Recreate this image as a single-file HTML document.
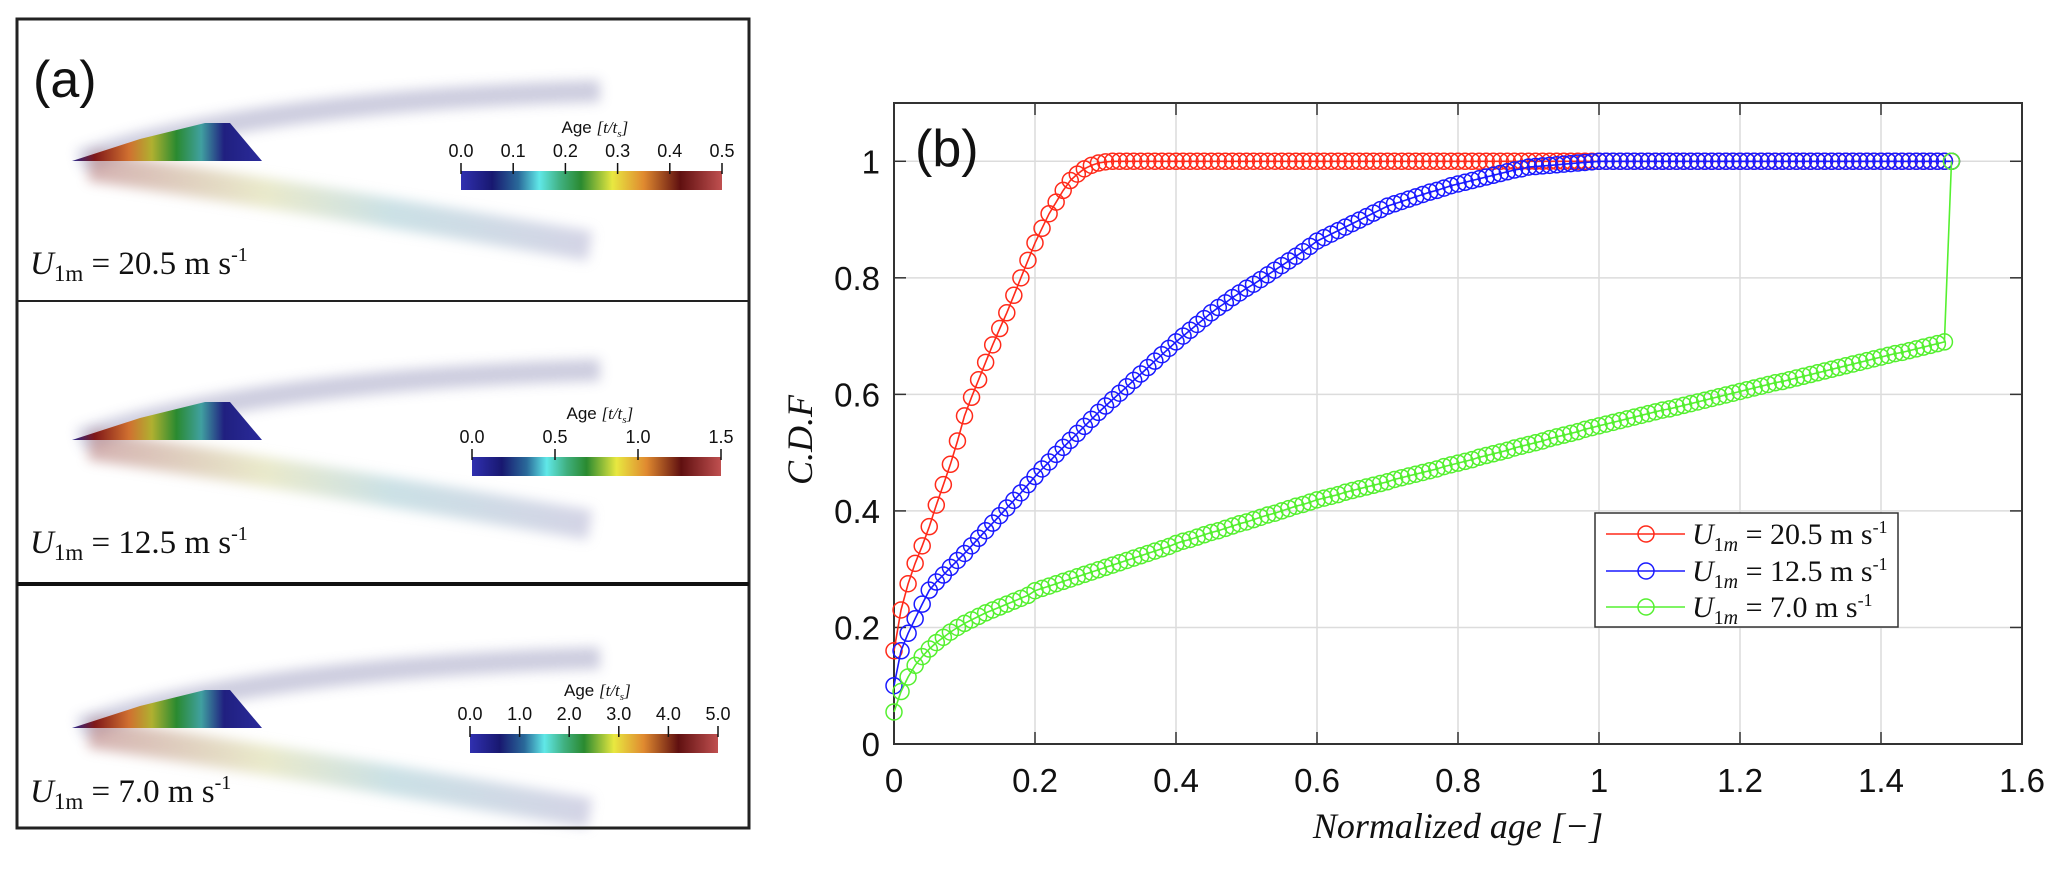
<!DOCTYPE html>
<html><head><meta charset="utf-8">
<style>
html,body{margin:0;padding:0;background:#fff;}
body{width:2067px;height:892px;position:relative;overflow:hidden;font-family:"Liberation Sans",sans-serif;}
svg{position:absolute;left:0;top:0;}
</style></head>
<body>
<svg id="main" width="2067" height="892" viewBox="0 0 2067 892" xmlns="http://www.w3.org/2000/svg">
<defs>
<linearGradient id="cmap" x1="0" x2="1" y1="0" y2="0">
<stop offset="0" stop-color="#3030b0"/><stop offset="0.12" stop-color="#181870"/>
<stop offset="0.22" stop-color="#2a6a9a"/><stop offset="0.3" stop-color="#60e8e8"/>
<stop offset="0.38" stop-color="#40b080"/><stop offset="0.46" stop-color="#2a8a30"/>
<stop offset="0.58" stop-color="#e8e840"/><stop offset="0.7" stop-color="#e08a30"/>
<stop offset="0.84" stop-color="#601010"/><stop offset="1" stop-color="#c05050"/>
</linearGradient>
<linearGradient id="tri" x1="0" x2="1" y1="0" y2="0">
<stop offset="0" stop-color="#2a2a90"/><stop offset="0.12" stop-color="#801818"/>
<stop offset="0.3" stop-color="#d07030"/><stop offset="0.42" stop-color="#b0b030"/>
<stop offset="0.55" stop-color="#2a8a30"/><stop offset="0.68" stop-color="#40a0a0"/>
<stop offset="0.8" stop-color="#202080"/><stop offset="1" stop-color="#2a2a9a"/>
</linearGradient>
<linearGradient id="armlow" x1="0" x2="1"><stop offset="0" stop-color="#b07070"/><stop offset="0.35" stop-color="#d8d8a0"/><stop offset="0.6" stop-color="#a0c8d0"/><stop offset="1" stop-color="#b0b0d0"/></linearGradient>
<filter id="blur" x="-20%" y="-50%" width="140%" height="200%"><feGaussianBlur stdDeviation="6"/></filter>
</defs>
<g id="panelA"></g>
<g id="chart"></g>
</svg>
<script>
// ---------- chart data ----------
const xStep = 0.01;
const xTicks = [0,0.2,0.4,0.6,0.8,1,1.2,1.4,1.6];
const xTickLabels = ["0","0.2","0.4","0.6","0.8","1","1.2","1.4","1.6"];
const yTicks = [0,0.2,0.4,0.6,0.8,1];
const yTickLabels = ["0","0.2","0.4","0.6","0.8","1"];
const seriesNames = ["20.5","12.5","7.0"];
const redValues = [0.16,0.23,0.275,0.31,0.34,0.373,0.41,0.445,0.48,0.52,0.563,0.595,0.625,0.655,0.685,0.713,0.74,0.77,0.80,0.83,0.86,0.885,0.91,0.93,0.95,0.967,0.978,0.987,0.993,0.997,0.999,
1,1,1,1,1,1,1,1,1,1,1,1,1,1,1,1,1,1,1,1,1,1,1,1,1,1,1,1,1,1,1,1,1,1,1,1,1,1,1,1,1,1,1,1,1,1,1,1,1,1,1,1,1,1,1,1,1,1,1,1,1,1,1,1,1,1,1,1,1,1,1,1,1,1,1,1,1,1,1,1,1,1,1,1,1,1,1,1,1,1,1,1,1,1,1,1,1,1,1,1,1,1,1,1,1,1,1,1,1,1,1,1,1,1,1,1,1,1,1,1];
const blueValues = [0.10,0.16,0.19,0.215,0.24,0.264,0.278,0.29,0.303,0.315,
0.327,0.340,0.353,0.366,0.379,0.392,0.405,0.418,0.431,0.445,0.459,
0.472,0.484,0.497,0.509,0.521,0.533,0.545,0.557,0.569,0.58,
0.591,0.602,0.613,0.624,0.635,0.646,0.657,0.668,0.679,0.69,
0.700,0.710,0.720,0.730,0.740,0.749,0.757,0.766,0.774,0.782,
0.789,0.797,0.805,0.813,0.821,0.829,0.837,0.845,0.854,0.863,
0.869,0.875,0.881,0.887,0.893,0.899,0.905,0.911,0.917,0.923,
0.927,0.931,0.935,0.939,0.943,0.947,0.950,0.954,0.958,0.961,
0.964,0.967,0.970,0.973,0.976,0.979,0.982,0.985,0.987,0.99,
0.991,0.992,0.993,0.994,0.995,0.996,0.997,0.998,0.999,1.0,
1,1,1,1,1,1,1,1,1,1,1,1,1,1,1,1,1,1,1,1,1,1,1,1,1,1,1,1,1,1,1,1,1,1,1,1,1,1,1,1,1,1,1,1,1,1,1,1,1,1];
const greenValues = [0.055,0.09,0.115,0.135,0.15,0.163,0.174,0.183,0.192,0.2,0.207,
0.213,0.219,0.225,0.23,0.235,0.24,0.245,0.25,0.255,0.263,
0.267,0.271,0.275,0.279,0.283,0.287,0.291,0.295,0.299,0.303,
0.307,0.311,0.315,0.319,0.323,0.327,0.331,0.335,0.339,0.344,
0.348,0.351,0.355,0.359,0.363,0.366,0.370,0.374,0.378,0.381,
0.385,0.389,0.393,0.396,0.400,0.404,0.408,0.411,0.415,0.419,
0.422,0.425,0.428,0.432,0.435,0.438,0.441,0.444,0.447,0.450,
0.454,0.457,0.460,0.463,0.466,0.469,0.472,0.476,0.479,0.482,
0.485,0.488,0.492,0.495,0.498,0.501,0.504,0.508,0.511,0.514,
0.517,0.520,0.524,0.527,0.530,0.533,0.536,0.540,0.543,0.546,
0.549,0.552,0.555,0.558,0.561,0.564,0.567,0.570,0.573,0.575,
0.578,0.581,0.584,0.587,0.590,0.593,0.596,0.599,0.602,0.605,
0.608,0.611,0.614,0.617,0.620,0.622,0.625,0.628,0.631,0.634,
0.637,0.640,0.643,0.646,0.649,0.652,0.655,0.658,0.661,0.664,
0.667,0.670,0.672,0.675,0.678,0.681,0.684,0.687,0.690,1.0];
// colorbar tick labels for panel (a)
const cbLabels1 = ["0.0","0.1","0.2","0.3","0.4","0.5"];
const cbLabels2 = ["0.0","0.5","1.0","1.5"];
const cbLabels3 = ["0.0","1.0","2.0","3.0","4.0","5.0"];

const NS="http://www.w3.org/2000/svg";
function mk(tag, attrs, parent){const e=document.createElementNS(NS,tag);for(const k in attrs)e.setAttribute(k,attrs[k]);parent.appendChild(e);return e;}

// ---------- chart ----------
const X0=894,X1=2022,Y0=744,Ytop=103;
const xMin=0,xMax=1.6,yMin=0,yMax=1.1;
const xs=v=>X0+(v-xMin)/(xMax-xMin)*(X1-X0);
const ys=v=>Y0-(v-yMin)/(yMax-yMin)*(Y0-Ytop);
const chart=document.getElementById('chart');

xTicks.forEach((t,i)=>{
  const g=mk('line',{x1:xs(t),x2:xs(t),y1:Ytop,y2:Y0,stroke:'#dcdcdc','stroke-width':1.5},chart);
  
  
  mk('line',{x1:xs(t),x2:xs(t),y1:Y0,y2:Y0-12,stroke:'#333','stroke-width':1.5},chart);
  mk('line',{x1:xs(t),x2:xs(t),y1:Ytop,y2:Ytop+12,stroke:'#333','stroke-width':1.5},chart);
  const tx=mk('text',{x:xs(t),y:792,'text-anchor':'middle','font-size':33,fill:'#111'},chart);
  tx.textContent=xTickLabels[i];
  
  
});
yTicks.forEach((t,i)=>{
  const g=mk('line',{x1:X0,x2:X1,y1:ys(t),y2:ys(t),stroke:'#dcdcdc','stroke-width':1.5},chart);
  
  
  mk('line',{x1:X0,x2:X0+12,y1:ys(t),y2:ys(t),stroke:'#333','stroke-width':1.5},chart);
  mk('line',{x1:X1,x2:X1-12,y1:ys(t),y2:ys(t),stroke:'#333','stroke-width':1.5},chart);
  const tx=mk('text',{x:880,y:ys(t)+12,'text-anchor':'end','font-size':33,fill:'#111'},chart);
  tx.textContent=yTickLabels[i];
  
  
});
const frame=mk('rect',{x:X0,y:Ytop,width:X1-X0,height:Y0-Ytop,fill:'none',stroke:'#333','stroke-width':2},chart);



const series=[{v:redValues,c:'#ff2a1a',n:'series-20-5'},{v:blueValues,c:'#1a1aff',n:'series-12-5'},{v:greenValues,c:'#55f030',n:'series-7-0'}];
series.forEach(s=>{
  const g=mk('g',{},chart);
  
  
  const pts=s.v.map((v,i)=>xs(i*xStep).toFixed(1)+','+ys(v).toFixed(1)).join(' ');
  const pl=mk('polyline',{points:pts,fill:'none',stroke:s.c,'stroke-width':1.6},g);
  
  
  s.v.forEach((v,i)=>{
    const c=mk('circle',{cx:xs(i*xStep),cy:ys(v),r:8,fill:'none',stroke:s.c,'stroke-width':1.5},g);
    
    
  });
});

// labels
let t=mk('text',{x:915,y:166,'font-size':52,fill:'#111'},chart);t.textContent='(b)';


t=mk('text',{x:1458,y:838,'text-anchor':'middle','font-size':36,'font-style':'italic','font-family':'Liberation Serif, serif',fill:'#111'},chart);
t.textContent='Normalized age [−]';


t=mk('text',{x:0,y:0,'text-anchor':'middle','font-size':36,'font-style':'italic','font-family':'Liberation Serif, serif',fill:'#111',transform:'translate(812,440) rotate(-90)'},chart);
t.textContent='C.D.F';



// legend
const lg=mk('g',{},chart);


mk('rect',{x:1595,y:513,width:303,height:114,fill:'#fff',stroke:'#333','stroke-width':1.5},lg);
[534,571,607].forEach((yy,i)=>{
  const e=mk('g',{},lg);
  
  
  mk('line',{x1:1606,x2:1685,y1:yy,y2:yy,stroke:series[i].c,'stroke-width':1.6},e);
  mk('circle',{cx:1646,cy:yy,r:8,fill:'none',stroke:series[i].c,'stroke-width':1.5},e);
  const tx=mk('text',{x:1692,y:yy+10,'font-size':30,'font-family':'Liberation Serif, serif',fill:'#111'},e);
  tx.innerHTML='<tspan font-style="italic">U</tspan><tspan font-size="20" dy="7">1<tspan font-style="italic">m</tspan></tspan><tspan dy="-7"> = '+seriesNames[i]+' m s</tspan><tspan font-size="18" dy="-11">-1</tspan>';
});

// ---------- panel (a) ----------
const pa=document.getElementById('panelA');
const boxes=[[19,301],[301,584],[584,828]];
const cbs=[{y:171,x0:461,x1:722,l:cbLabels1},{y:457,x0:472,x1:721,l:cbLabels2},{y:734,x0:470,x1:718,l:cbLabels3}];
const triY=[161,440,728];
const uLabels=["20.5","12.5","7.0"];
boxes.forEach((b,i)=>{
  const g=mk('g',{},pa);
  
  
  const ty=triY[i];
  mk('path',{d:`M80 ${ty} Q250 ${ty-60} 600 ${ty-70}`,fill:'none',stroke:'#9090b8','stroke-width':22,opacity:0.45,filter:'url(#blur)'},g);
  mk('path',{d:`M90 ${ty+5} Q260 ${ty+30} 590 ${ty+85}`,fill:'none',stroke:'url(#armlow)','stroke-width':30,opacity:0.55,filter:'url(#blur)'},g);
  mk('path',{d:`M72 ${ty} L140 ${ty-22} L205 ${ty-38} L230 ${ty-38} L262 ${ty} Z`,fill:'url(#tri)'},g);
  const cb=cbs[i];
  mk('rect',{x:cb.x0,y:cb.y,width:cb.x1-cb.x0,height:19,fill:'url(#cmap)'},g);
  let at=mk('text',{x:(cb.x0+cb.x1)/2-30,y:cb.y-38,'font-size':17,fill:'#111'},g);
  at.innerHTML='Age <tspan font-family="Liberation Serif, serif" font-style="italic">[t/t<tspan font-size="11" dy="4">s</tspan><tspan dy="-4">]</tspan></tspan>';
  cb.l.forEach((lab,k)=>{
    const xx=cb.x0+k/(cb.l.length-1)*(cb.x1-cb.x0);
    mk('line',{x1:xx,x2:xx,y1:cb.y-8,y2:cb.y+3,stroke:'#111','stroke-width':1.5},g);
    const tl=mk('text',{x:xx,y:cb.y-14,'text-anchor':'middle','font-size':18,fill:'#111'},g);
    tl.textContent=lab;
    
    
  });
  const ul=mk('text',{x:30,y:[274,553,802][i],'font-size':33,'font-family':'Liberation Serif, serif',fill:'#111'},g);
  ul.innerHTML='<tspan font-style="italic">U</tspan><tspan font-size="23" dy="7">1m</tspan><tspan dy="-7"> = '+uLabels[i]+' m s</tspan><tspan font-size="20" dy="-13">-1</tspan>';
  
  
});
mk('rect',{x:17,y:19,width:732,height:809,fill:'none',stroke:'#222','stroke-width':3},pa);
mk('line',{x1:17,x2:749,y1:301,y2:301,stroke:'#222','stroke-width':2},pa);
mk('line',{x1:17,x2:749,y1:584,y2:584,stroke:'#111','stroke-width':4},pa);
t=mk('text',{x:33,y:97,'font-size':52,fill:'#111'},pa);t.textContent='(a)';


</script>
</body></html>
